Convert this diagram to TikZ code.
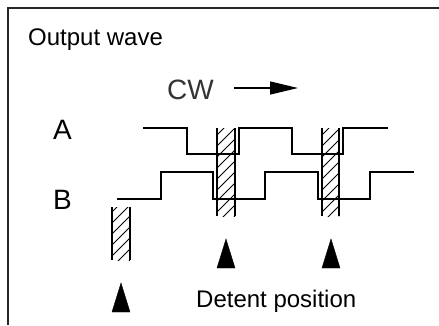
\documentclass[tikz,border=0pt]{standalone}
\usepackage{fontspec}
\setmainfont{Liberation Sans}
\usetikzlibrary{arrows.meta,positioning,calc}

% hatched detent band: x1, y1, x2, y2
\newcommand{\hatchbar}[4]{%
    \begin{scope}
        \clip (#1,#2) rectangle (#3,#4);
        \foreach \k in {0,...,10}
            \draw[hatch] (#1,{#4+18-11*\k}) -- ++(20,-20);
    \end{scope}
    \draw[bar] (#1,#2) -- (#1,#4) (#3,#2) -- (#3,#4);
}

\begin{document}
\begin{tikzpicture}[x=1pt, y=-1pt,
    wave/.style={line width=2pt, line join=miter},
    bar/.style={line width=1.5pt},
    hatch/.style={line width=0.8pt},
    detent/.style={fill=black},
    big/.style={inner sep=0pt, font=\fontsize{28}{32}\selectfont},
    txt/.style={inner sep=0pt, font=\fontsize{24}{28}\selectfont}]
    \useasboundingbox (0,0) rectangle (439,325);
    \draw[line width=1.6pt, black!85] (439,8) -- (8,8) -- (8,325);

    \node[txt, anchor=base west] (title) at (28,45) {Output wave};
    \node[big, anchor=base west, black!80] (cw) at (167,99) {CW};
    \coordinate (cwend) at (298,88);
    \draw[line width=1.3pt, -{Triangle[length=28pt, width=13pt]}] ([xshift=20pt]cw.east |- cwend) -- (cwend);
    \node[big, anchor=base west] (A) at (53,139) {A};
    \node[big, anchor=base west] (B) at (53,209) {B};
    \node[txt, anchor=base west] (detent) at (196,307) {Detent position};

    % detent bands
    \hatchbar{217}{128}{235}{216}
    \hatchbar{322}{128}{339}{216}
    \hatchbar{112}{207}{130}{260}

    % A and B waves
    \draw[wave] (143,128) -| (187,154) -| (239,128) -| (292,154) -| (343,128) -- (388,128);
    \draw[wave] (117,199) -| (161,172) -| (213,199) -| (265,172) -| (318,199) -| (370,172) -- (414,172);

    % detent marks
    \draw[detent] (217,268) -- (226,239) -- (235,268) -- cycle;
    \draw[detent] (322,268) -- (331,239) -- (340,268) -- cycle;
    \draw[detent] (112,312) -- (121,283) -- (130,312) -- cycle;
\end{tikzpicture}
\end{document}
